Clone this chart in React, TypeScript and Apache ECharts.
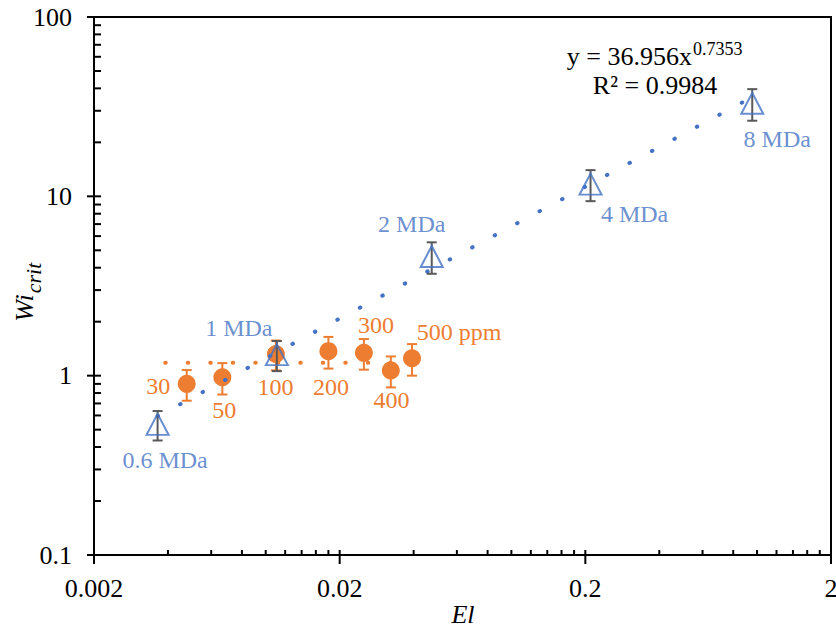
import React, { useEffect, useRef } from 'react';
import * as echarts from 'echarts';

// ---- axes ----
const X_MIN = 0.002;
const X_MAX = 2;
const Y_MIN = 0.1;
const Y_MAX = 100;
const xMajorTicks = [0.002, 0.02, 0.2, 2];
const xMajorLabels = ['0.002', '0.02', '0.2', '2'];
const xMinorTicks = [
  0.004, 0.006, 0.008, 0.01, 0.012, 0.014, 0.016, 0.018,
  0.04, 0.06, 0.08, 0.1, 0.12, 0.14, 0.16, 0.18,
  0.4, 0.6, 0.8, 1, 1.2, 1.4, 1.6, 1.8,
];
const yMajorTicks = [0.1, 1, 10, 100];
const yMajorLabels = ['0.1', '1', '10', '100'];
const yMinorTicks = [
  0.2, 0.3, 0.4, 0.5, 0.6, 0.7, 0.8, 0.9,
  2, 3, 4, 5, 6, 7, 8, 9,
  20, 30, 40, 50, 60, 70, 80, 90,
];

// ---- molecular-weight series (blue triangles) ----
const mdaLabels = ['0.6 MDa', '1 MDa', '2 MDa', '4 MDa', '8 MDa'];
const mdaEl = [0.00363, 0.0111, 0.0474, 0.21, 0.956];
const mdaWi = [0.535, 1.31, 4.62, 11.7, 33.0];
const mdaErr = [0.1, 0.25, 0.92, 2.3, 6.6];

// ---- concentration series (orange circles) ----
const ppmLabels = ['30', '50', '100', '200', '300', '400', '500 ppm'];
const ppmEl = [0.00477, 0.00666, 0.011, 0.018, 0.0251, 0.0323, 0.0394];
const ppmWi = [0.9, 0.98, 1.32, 1.37, 1.34, 1.07, 1.25];
const ppmErr = [0.175, 0.195, 0.25, 0.275, 0.26, 0.21, 0.25];

// ---- trendlines ----
const powerCoef = 36.956;
const powerExp = 0.7353;
const blueTrendEl = [0.00363, 0.956];
const orangeTrendEl = [0.0039, 0.0394];
const orangeTrendWi = [1.18, 1.18];

// label placement (pixel offsets from marker centre)
const mdaLabelOffsets = [[7.5, 36], [-38, -27], [-20, -32], [44, 29.5], [25, 35.5]];
const ppmLabelOffsets = [[-28.5, 1.7], [2, 32.7], [-0.5, 32.7], [2.6, 36], [12.2, -28], [0.6, 30], [47, -26]];

const BLUE = '#4472C4';
const ORANGE = '#ED7D31';
const GREY = '#595959';
const FAMILY = 'Liberation Serif';

function txt(text: string, x: number, y: number, size: number, align: string, italic = false, color = '#000') {
  return {
    type: 'text',
    x,
    y,
    silent: true,
    style: {
      text,
      fill: color,
      font: `${italic ? 'italic ' : ''}${size}px "${FAMILY}", serif`,
      align,
      verticalAlign: 'middle',
    },
  };
}

function errorBarSeries(xs: number[], ys: number[], es: number[], color: string, z: number) {
  return {
    type: 'custom',
    coordinateSystem: 'cartesian2d',
    clip: false,
    silent: true,
    z,
    dimensions: ['x', 'y', 'e'],
    encode: { x: 0, y: 1 },
    data: xs.map((x, i) => [x, ys[i], es[i]]),
    renderItem: (params: any, api: any) => {
      const x = api.value(0);
      const y = api.value(1);
      const e = api.value(2);
      const top = api.coord([x, y + e]);
      const bot = api.coord([x, y - e]);
      const cap = 5;
      const st = { stroke: color, lineWidth: 2 };
      return {
        type: 'group',
        children: [
          { type: 'line', shape: { x1: top[0], y1: top[1], x2: bot[0], y2: bot[1] }, style: st },
          { type: 'line', shape: { x1: top[0] - cap, y1: top[1], x2: top[0] + cap, y2: top[1] }, style: st },
          { type: 'line', shape: { x1: bot[0] - cap, y1: bot[1], x2: bot[0] + cap, y2: bot[1] }, style: st },
        ],
      };
    },
  };
}

function tickSeries(values: number[], isX: boolean, major: boolean, labels?: string[]) {
  return {
    type: 'custom',
    coordinateSystem: 'cartesian2d',
    clip: false,
    silent: true,
    z: 10,
    data: values.map((v) => (isX ? [v, Y_MIN] : [X_MIN, v])),
    renderItem: (params: any, api: any) => {
      const v = api.value(isX ? 0 : 1);
      const p = isX ? api.coord([v, Y_MIN]) : api.coord([X_MIN, v]);
      const st = { stroke: '#000', lineWidth: 2 };
      const children: any[] = [];
      if (isX) {
        if (major) {
          children.push({ type: 'line', shape: { x1: p[0], y1: p[1] - 5, x2: p[0], y2: p[1] + 9 }, style: st });
        } else {
          children.push({ type: 'line', shape: { x1: p[0], y1: p[1], x2: p[0], y2: p[1] - 5 }, style: st });
        }
        if (labels) children.push(txt(labels[params.dataIndex], p[0], p[1] + 33.5, 26, 'center'));
      } else {
        if (major) {
          children.push({ type: 'line', shape: { x1: p[0] - 7, y1: p[1], x2: p[0] + 7, y2: p[1] }, style: st });
        } else {
          children.push({ type: 'line', shape: { x1: p[0], y1: p[1], x2: p[0] + 7, y2: p[1] }, style: st });
        }
        if (labels) children.push(txt(labels[params.dataIndex], p[0] - 22, p[1], 26, 'right'));
      }
      return { type: 'group', children };
    },
  };
}

function pointLabel(text: string, offset: number[], color: string) {
  return {
    show: true,
    position: 'inside',
    formatter: text,
    offset,
    color,
    fontSize: 24,
    fontFamily: FAMILY,
    fontStyle: 'normal',
    fontWeight: 'normal',
  };
}

export default function App() {
  const ref = useRef<HTMLDivElement>(null);

  useEffect(() => {
    if (!ref.current) return;
    const chart = echarts.init(ref.current, undefined, { renderer: 'svg' });

    const hiddenAxisParts = {
      axisTick: { show: false },
      axisLabel: { show: false },
      splitLine: { show: false },
      minorTick: { show: false },
      minorSplitLine: { show: false },
      axisLine: { show: true, lineStyle: { color: '#000', width: 2 } },
    };

    const option: any = {
      animation: false,
      backgroundColor: '#fff',
      textStyle: { fontFamily: FAMILY },
      grid: {
        left: 94,
        right: 5,
        top: 17,
        bottom: 73,
        show: true,
        borderColor: '#000',
        borderWidth: 2,
        backgroundColor: 'transparent',
      },
      xAxis: { type: 'log', logBase: 10, min: X_MIN, max: X_MAX, ...hiddenAxisParts },
      yAxis: { type: 'log', logBase: 10, min: Y_MIN, max: Y_MAX, ...hiddenAxisParts },
      series: [
        errorBarSeries(ppmEl, ppmWi, ppmErr, ORANGE, 2),
        {
          type: 'scatter',
          z: 3,
          symbol: 'circle',
          symbolSize: 18,
          itemStyle: { color: ORANGE, opacity: 1 },
          data: ppmEl.map((x, i) => ({
            value: [x, ppmWi[i]],
            label: pointLabel(ppmLabels[i], ppmLabelOffsets[i], ORANGE),
          })),
        },
        {
          type: 'line',
          z: 4,
          silent: true,
          showSymbol: false,
          symbol: 'none',
          data: orangeTrendEl.map((x, i) => [x, orangeTrendWi[i]]),
          lineStyle: { color: ORANGE, width: 4, type: [0.5, 22], cap: 'round' },
        },
        {
          type: 'line',
          z: 4,
          silent: true,
          showSymbol: false,
          symbol: 'none',
          data: blueTrendEl.map((x) => [x, powerCoef * Math.pow(x, powerExp)]),
          lineStyle: { color: BLUE, width: 4, type: [0.5, 25], cap: 'round' },
        },
        errorBarSeries(mdaEl, mdaWi, mdaErr, GREY, 5),
        {
          type: 'scatter',
          z: 6,
          symbol: 'triangle',
          symbolSize: [22, 21],
          itemStyle: { color: 'transparent', borderColor: BLUE, borderWidth: 2 },
          data: mdaEl.map((x, i) => ({
            value: [x, mdaWi[i]],
            label: pointLabel(mdaLabels[i], mdaLabelOffsets[i], BLUE),
          })),
        },
        tickSeries(xMajorTicks, true, true, xMajorLabels),
        tickSeries(xMinorTicks, true, false),
        tickSeries(yMajorTicks, false, true, yMajorLabels),
        tickSeries(yMinorTicks, false, false),
      ],
      graphic: [
        txt('y = 36.956x', 692, 56, 26, 'right'),
        txt('0.7353', 693, 49, 18, 'left'),
        txt('R² = 0.9984', 655, 85, 26, 'center'),
        txt('El', 463, 614, 26, 'center', true),
        { ...txt('Wi', 24, 308, 26, 'center', true), rotation: Math.PI / 2 },
        { ...txt('crit', 33, 278, 22, 'center', true), rotation: Math.PI / 2 },
      ],
    };

    chart.setOption(option);
    return () => chart.dispose();
  }, []);

  return (
    <div
      ref={ref}
      style={{ position: 'absolute', left: 0, top: 0, width: 836, height: 628, background: '#fff' }}
    />
  );
}
